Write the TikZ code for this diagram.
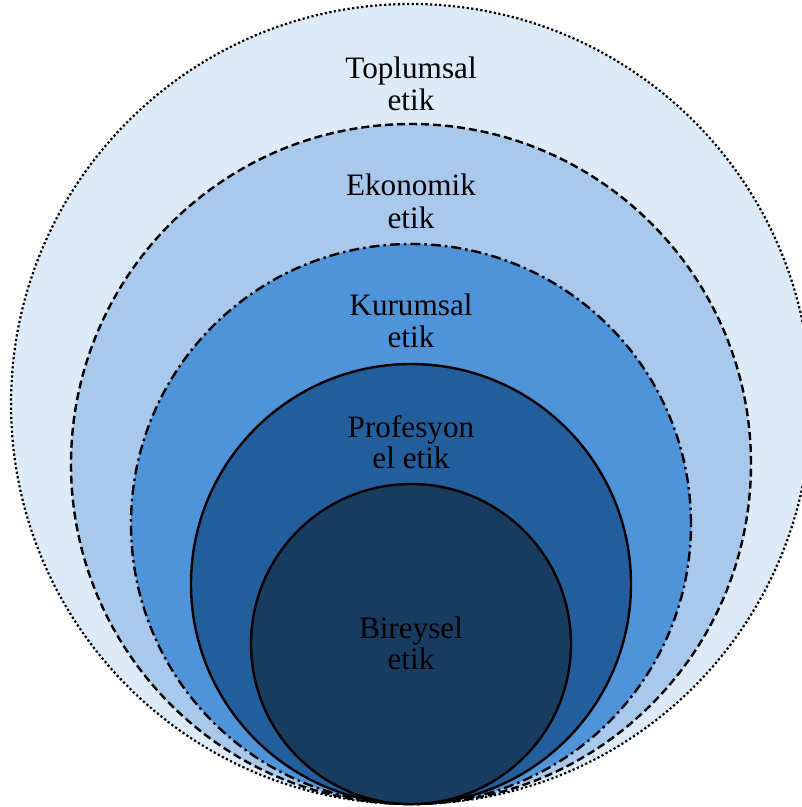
\documentclass[tikz,border=0pt]{standalone}
\usepackage{fontspec}
\setmainfont{Liberation Serif}
\definecolor{cA}{HTML}{DDEAF7}
\definecolor{cB}{HTML}{A8C9EB}
\definecolor{cC}{HTML}{4F94D9}
\definecolor{cD}{HTML}{215E9B}
\definecolor{cE}{HTML}{183C60}
\tikzset{
  ring/.style={circle, draw=black, line width=2.4pt, inner sep=0pt, outer sep=0pt},
  lbl/.style={anchor=base, inner sep=0pt, font=\fontsize{31.2}{32}\selectfont, text=black}
}
\begin{document}
\begin{tikzpicture}[x=1pt,y=-1pt]
\useasboundingbox (0,0) rectangle (802,807);
\clip (0,0) rectangle (802,807);
\fill[white] (0,0) rectangle (802,807);
\node[ring, fill=cA, minimum size=800pt, dash pattern=on 2.2pt off 2.4pt, line width=2.2pt] (c1) at (411,404) {};
\node[ring, fill=cB, minimum size=680pt, dash pattern=on 8pt off 4pt] (c2) at (411,464) {};
\node[ring, fill=cC, minimum size=560pt, dash pattern=on 10pt off 4pt on 2.5pt off 4pt] (c3) at (411,524) {};
\node[ring, fill=cD, minimum size=440pt] (c4) at (411,584) {};
\node[ring, fill=cE, minimum size=320pt] (c5) at (411,644) {};
\node[lbl] (t1a) at (411,78) {Toplumsal};
\node[lbl] (t1b) at (411,110) {etik};
\node[lbl] (t2a) at (411,195) {Ekonomik};
\node[lbl] (t2b) at (411,228) {etik};
\node[lbl] (t3a) at (411,315) {Kurumsal};
\node[lbl] (t3b) at (411,347) {etik};
\node[lbl] (t4a) at (411,437) {Profesyon};
\node[lbl] (t4b) at (411,468) {el etik};
\node[lbl] (t5a) at (411,638) {Bireysel};
\node[lbl] (t5b) at (411,669) {etik};
\end{tikzpicture}
\end{document}
